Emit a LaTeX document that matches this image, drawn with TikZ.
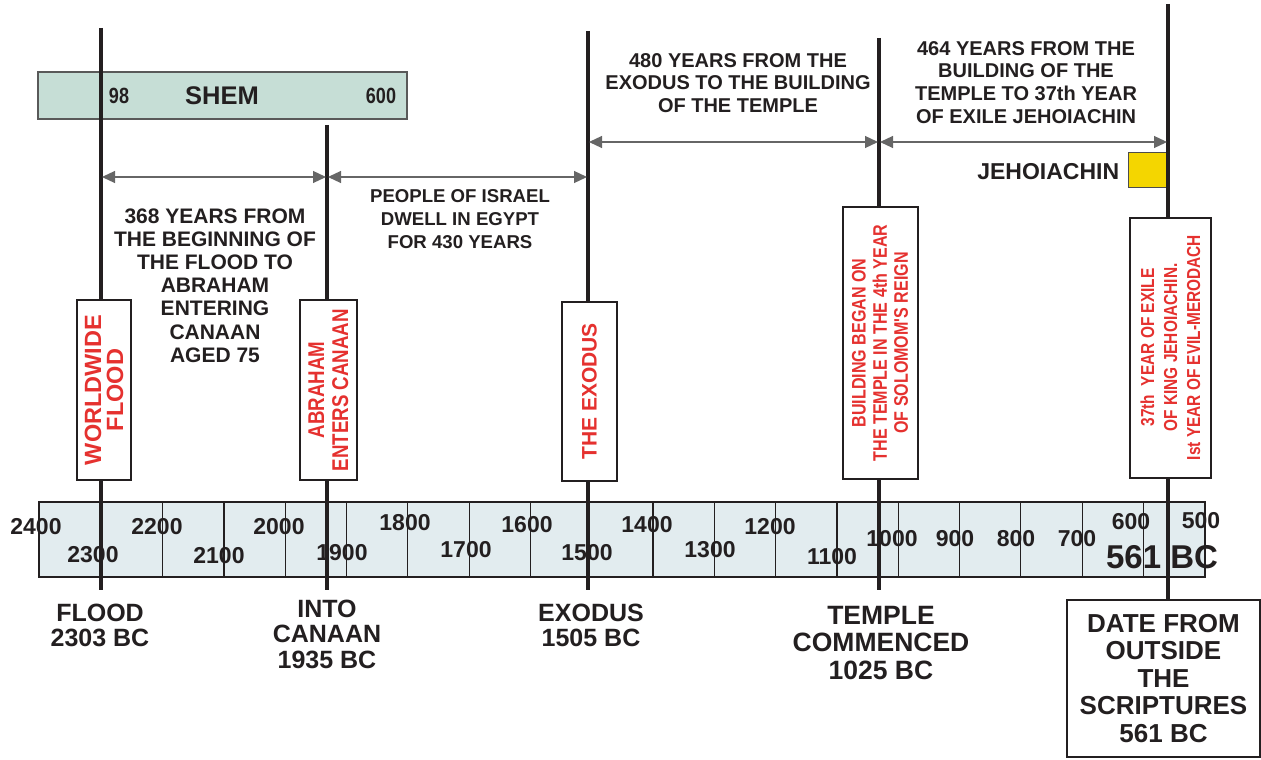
\documentclass[tikz,border=0pt]{standalone}
\usepackage{fontspec}
\setmainfont{Liberation Sans}
\newfontfamily\narrowfont[FakeStretch=0.82]{Liberation Sans}
\usepackage{xcolor}
\usepackage{tikz}
\usetikzlibrary{arrows.meta,positioning,calc}

\definecolor{inkblack}{HTML}{231F20}
\definecolor{barblue}{HTML}{E2ECEF}
\definecolor{shemgreen}{HTML}{C6DED6}
\definecolor{labelred}{HTML}{E5312F}
\definecolor{jehyellow}{HTML}{F4D600}
\newcommand{\sizeat}[2]{\fontsize{#1}{#2}\selectfont}

\begin{document}
\begin{tikzpicture}[
    x=0.5pt, y=-0.5pt,
    event/.style={line width=2pt, draw=inkblack},
    span/.style={{Triangle[length=6.5pt,width=6pt]}-{Triangle[length=6.5pt,width=6pt]}, line width=0.6pt, draw=gray!80!black},
    tag/.style={draw=inkblack, line width=1pt, fill=white, rotate=90, text=labelred, align=center, inner sep=0pt},
    note/.style={text=inkblack, align=center, inner sep=0pt},
    axisnum/.style={text=inkblack, inner sep=0pt, font=\bfseries\sizeat{11.5}{13}}
]
\useasboundingbox (0,0) rectangle (1261,759);

% Shem's lifetime
\draw[draw=gray!70!black, fill=shemgreen, line width=0.6pt] (38,72) rectangle (407,119);
\node[note, font=\narrowfont\bfseries\sizeat{11}{12}] (shem-born) at (119,96) {98};
\node[note, font=\bfseries\sizeat{12.75}{14}] (shem) at (222,96) {SHEM};
\node[note, font=\narrowfont\bfseries\sizeat{11}{12}] (shem-died) at (381,96) {600};

% time axis
\draw[fill=barblue, draw=inkblack, line width=1pt] (39,502) rectangle (1205,577);
\foreach \i in {2,...,8,10,11,...,18}
    \draw[line width=0.6pt, inkblack] ({40+61.3*\i},502) -- ({40+61.3*\i},577);
\foreach \v/\x/\y in {2400/36/527, 2300/93/555, 2200/157/527, 2100/219/556, 2000/279/527,
    1900/342/553, 1800/405/523, 1700/466/550, 1600/527/525, 1500/587/553,
    1400/647/525, 1300/710/550, 1200/770/527, 1100/832/557, 1000/892/539,
    900/955/539, 800/1016/539, 700/1077/539, 600/1131/522, 500/1201/521}
    \node[axisnum] (yr\v) at (\x,\y) {\v};
\node[axisnum, font=\bfseries\sizeat{16.5}{18}] (yr561) at (1162,557) {561 BC};

% bottom captions
\node[note, font=\bfseries\sizeat{12.5}{12.75}] (flood-lbl) at (100,625.5) {FLOOD\\2303 BC};
\node[note, font=\bfseries\sizeat{12.5}{12.75}] (canaan-lbl) at (327,634) {INTO\\CANAAN\\1935 BC};
\node[note, font=\bfseries\sizeat{12.5}{12.75}] (exodus-lbl) at (591,625.5) {EXODUS\\1505 BC};
\node[note, font=\bfseries\sizeat{13.25}{13.75}] (temple-lbl) at (881,643) {TEMPLE\\COMMENCED\\1025 BC};
\node[note, draw=inkblack, line width=1pt, minimum width=96.5pt, minimum height=78.5pt,
      font=\bfseries\sizeat{13}{13.75}] (date-box) at (1163.5,678.5)
      {DATE FROM\\OUTSIDE\\THE\\SCRIPTURES\\561 BC};

% Jehoiachin marker
\node[draw=gray!60!black, fill=jehyellow, line width=0.5pt, minimum width=19.5pt,
      minimum height=17.5pt, inner sep=0pt] (jeho-box) at (1147.5,170.5) {};
\node[note, font=\bfseries\sizeat{11.5}{13}, left=4pt of jeho-box, yshift=-0.75pt] (jeho-name) {JEHOIACHIN};

% event lines
\coordinate (flood-top) at (101,28);   \coordinate (flood-bot) at (101,590);
\coordinate (canaan-top) at (327,125); \coordinate (canaan-bot) at (327,590);
\coordinate (exodus-top) at (588,31);  \coordinate (exodus-bot) at (588,590);
\coordinate (temple-top) at (879,38);  \coordinate (temple-bot) at (879,590);
\coordinate (exile-top) at (1168,4);
\draw[event] (flood-top) -- (flood-bot);
\draw[event] (canaan-top) -- (canaan-bot);
\draw[event] (exodus-top) -- (exodus-bot);
\draw[event] (temple-top) -- (temple-bot);
\draw[event] (exile-top) -- (exile-top |- date-box.north);

% spans between events
\coordinate (s1a) at (102,177);  \coordinate (s1b) at (326,177);
\coordinate (s2a) at (328,177);  \coordinate (s2b) at (587,177);
\coordinate (s3a) at (589,142);  \coordinate (s3b) at (878,142);
\coordinate (s4a) at (880,142);  \coordinate (s4b) at (1167,142);
\draw[span] (s1a) -- (s1b);
\draw[span] (s2a) -- (s2b);
\draw[span] (s3a) -- (s3b);
\draw[span] (s4a) -- (s4b);

\node[note, font=\bfseries\sizeat{10.5}{11.6}] (gap-flood) at (215,285.5)
    {368 YEARS FROM\\THE BEGINNING OF\\THE FLOOD TO\\ABRAHAM\\ENTERING\\CANAAN\\AGED 75};
\node[note, font=\bfseries\sizeat{9.3}{11.5}] (gap-egypt) at (460,219)
    {PEOPLE OF ISRAEL\\DWELL IN EGYPT\\FOR 430 YEARS};
\node[note, font=\bfseries\sizeat{10}{11.4}] (gap-temple) at (738,83)
    {480 YEARS FROM THE\\EXODUS TO THE BUILDING\\OF THE TEMPLE};
\node[note, font=\bfseries\sizeat{10}{11.4}] (gap-exile) at (1026,82.5)
    {464 YEARS FROM THE\\BUILDING OF THE\\TEMPLE TO 37th YEAR\\OF EXILE JEHOIACHIN};

% red event tags
\node[tag, minimum width=90pt, minimum height=27pt, font=\bfseries\sizeat{11.75}{11}]
    (flood-tag) at (104,390) {WORLDWIDE\\FLOOD};
\node[tag, minimum width=90pt, minimum height=28.5pt, font=\narrowfont\bfseries\sizeat{11.4}{12}]
    (canaan-tag) at (328.5,390) {ABRAHAM\\ENTERS CANAAN};
\node[tag, minimum width=89.5pt, minimum height=27.5pt, font=\bfseries\sizeat{10.5}{12}]
    (exodus-tag) at (589.5,391.5) {THE EXODUS};
\node[tag, minimum width=136pt, minimum height=37.5pt, font=\narrowfont\bfseries\sizeat{9.8}{10.6}]
    (temple-tag) at (880,343) {BUILDING BEGAN ON\\THE TEMPLE IN THE 4th YEAR\\OF SOLOMOM'S REIGN};
\node[tag, minimum width=130pt, minimum height=40.5pt, font=\narrowfont\bfseries\sizeat{9.4}{11.5}]
    (exile-tag) at (1170.5,347.5) {37th\ \ YEAR OF EXILE\\OF KING JEHOIACHIN.\\Ist YEAR OF EVIL-MERODACH};
\end{tikzpicture}
\end{document}
